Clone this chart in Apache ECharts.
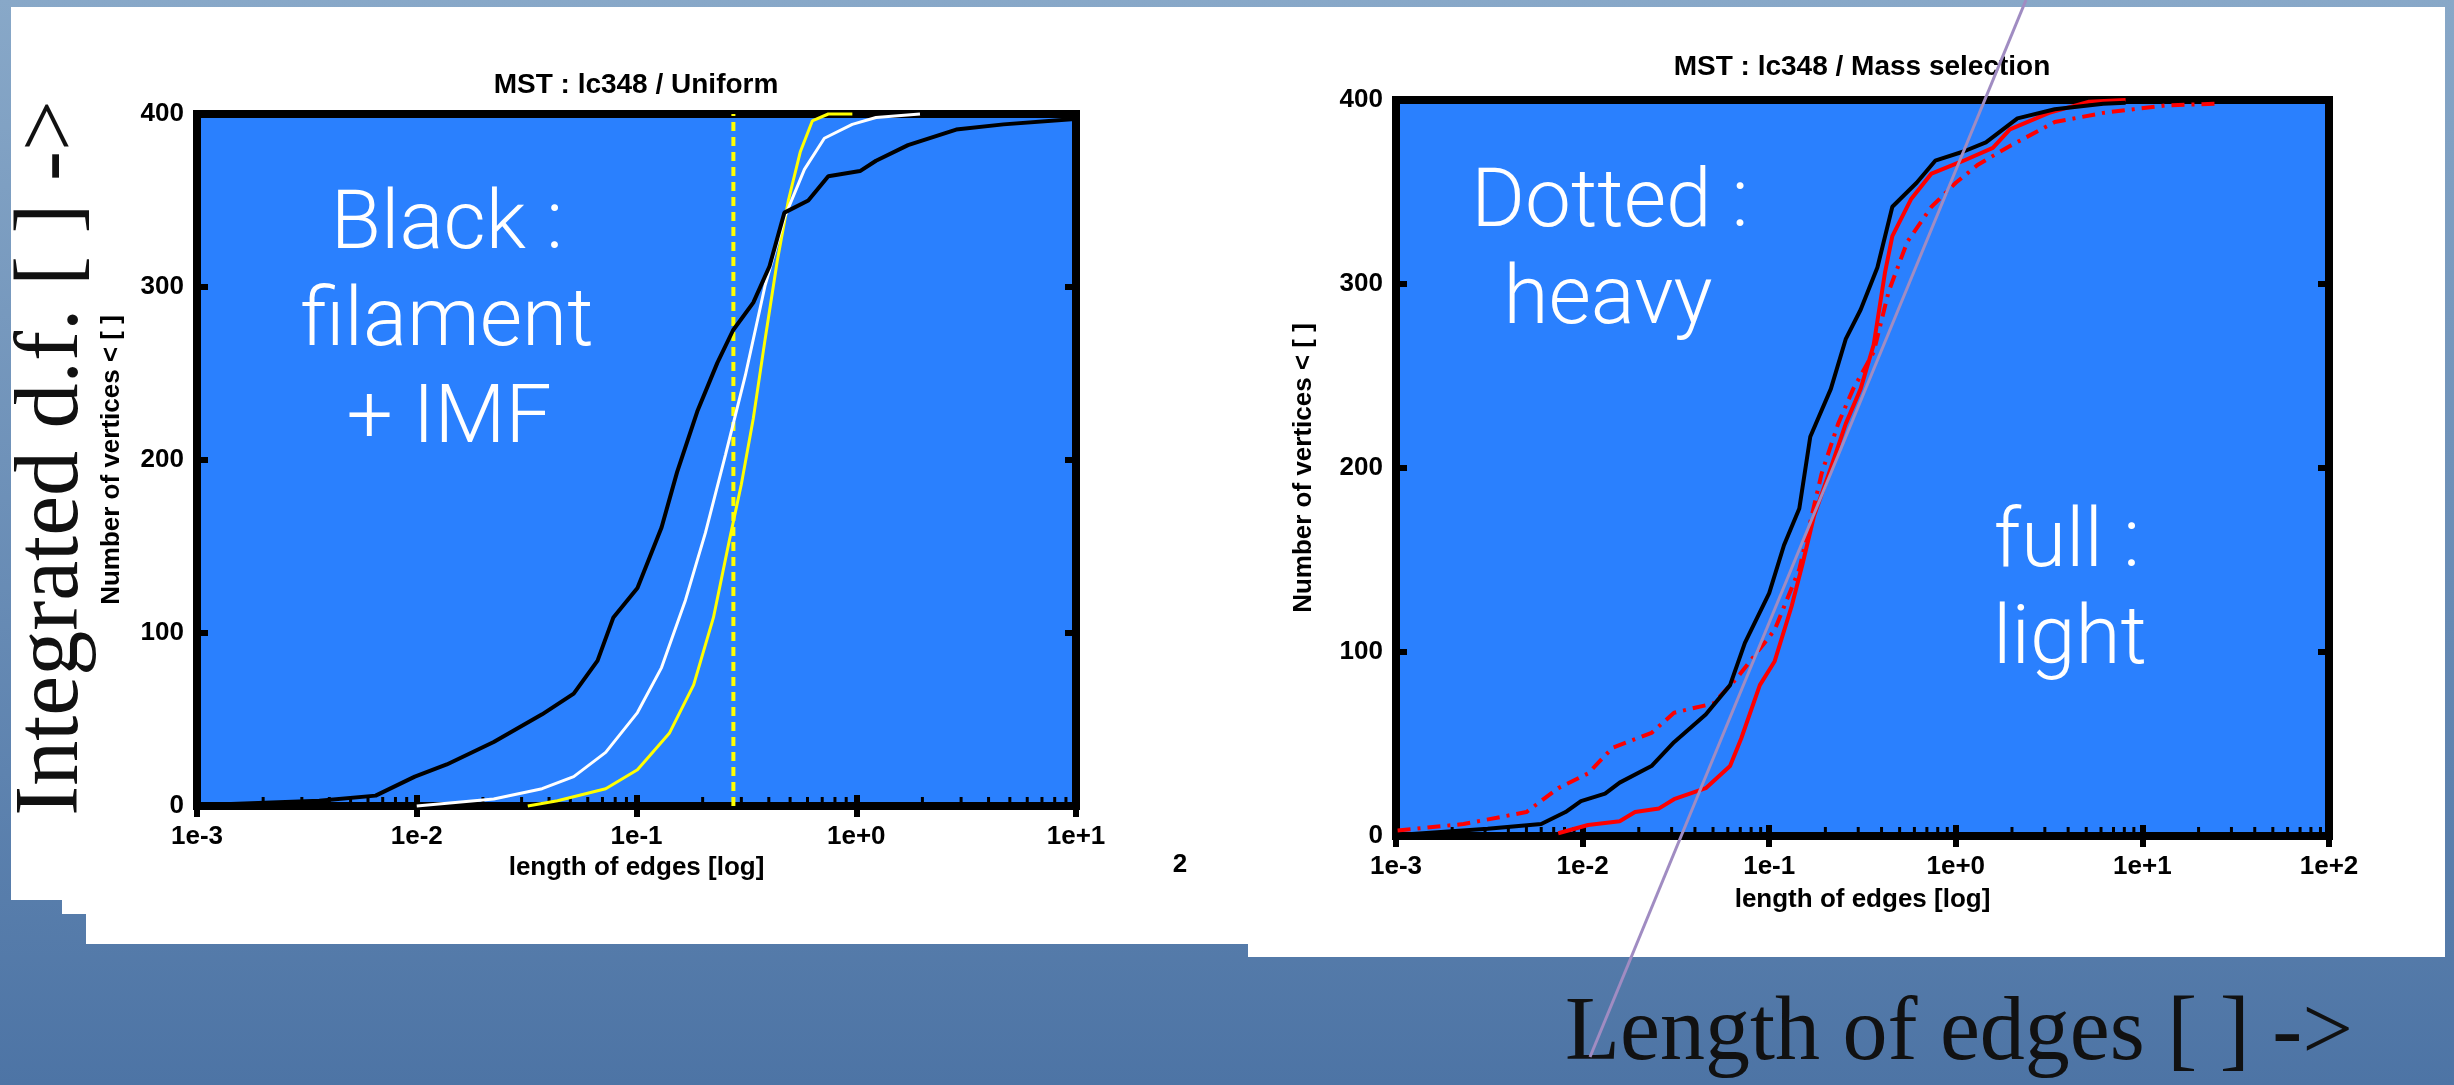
<!DOCTYPE html>
<html>
<head>
<meta charset="utf-8">
<script src="https://cdn.jsdelivr.net/npm/echarts@6/dist/echarts.min.js"></script>
<style>
  html, body { margin: 0; padding: 0; width: 2454px; height: 1085px; overflow: hidden; }
  #chart { width: 2454px; height: 1085px; }
</style>
</head>
<body>
<div id="chart"></div>
<script>
// ---- Data: cumulative number of MST vertices vs. edge length ----
// Uniform panel, [edge length, vertices below it]
const uniformBlack = [
  [0.001, 0.5], [0.0036, 3], [0.0065, 6], [0.0098, 17], [0.0137, 24], [0.0224, 37],
  [0.0372, 53], [0.0518, 65], [0.0665, 84], [0.0785, 109], [0.101, 126], [0.130, 161],
  [0.153, 193], [0.189, 228], [0.233, 256], [0.275, 275], [0.340, 291], [0.403, 312],
  [0.471, 343], [0.605, 350], [0.746, 364], [1.04, 367], [1.23, 373], [1.72, 382],
  [2.85, 391], [4.68, 394], [9.55, 397], [10, 397]
];
const uniformWhite = [
  [0.010, 0], [0.0224, 4], [0.0372, 10], [0.0518, 17], [0.0724, 31], [0.101, 54],
  [0.130, 80], [0.167, 119], [0.206, 158], [0.254, 203], [0.313, 249], [0.385, 301],
  [0.471, 340], [0.581, 368], [0.716, 386], [0.959, 394], [1.23, 398], [1.95, 400]
];
const uniformYellow = [
  [0.032, 0], [0.0437, 3], [0.0724, 10], [0.101, 21], [0.141, 42], [0.182, 70],
  [0.224, 109], [0.265, 154], [0.300, 186], [0.340, 224], [0.385, 270], [0.437, 315],
  [0.491, 350], [0.556, 378], [0.631, 396], [0.746, 400], [0.96, 400]
];
const uniformCut = [[0.276, 0], [0.276, 400]];

// Mass selection panel
const massAll = [
  [0.00102, 0.5], [0.0031, 4], [0.006, 6.5], [0.0081, 13], [0.0098, 19], [0.0132, 23],
  [0.0158, 29], [0.0234, 38], [0.0309, 51], [0.0457, 66], [0.0617, 82], [0.0741, 105],
  [0.100, 132], [0.120, 158], [0.145, 178], [0.166, 217], [0.214, 243], [0.257, 270],
  [0.309, 286], [0.380, 309], [0.457, 342], [0.617, 355], [0.776, 367], [1.10, 372],
  [1.45, 377], [2.14, 390], [3.39, 395], [6.17, 398], [8.13, 398.5]
];
const massLight = [
  [0.0074, 1.5], [0.0107, 6], [0.0158, 8], [0.0191, 13], [0.0257, 15], [0.0309, 20],
  [0.0457, 26], [0.0617, 38], [0.0708, 53], [0.0891, 82], [0.107, 95], [0.132, 125],
  [0.151, 148], [0.174, 174], [0.214, 200], [0.257, 224], [0.309, 243], [0.363, 267],
  [0.417, 306], [0.457, 326], [0.575, 346], [0.741, 360], [1.10, 367], [1.58, 374],
  [1.95, 384], [3.16, 393], [5.13, 399], [8.13, 400]
];
const massHeavy = [
  [0.00102, 3], [0.0023, 6.5], [0.005, 13], [0.0074, 26], [0.0107, 34], [0.0145, 48],
  [0.0234, 56], [0.0309, 67], [0.0501, 72], [0.0661, 85], [0.107, 112], [0.145, 145],
  [0.191, 197], [0.234, 224], [0.282, 243], [0.363, 263], [0.437, 296], [0.550, 323],
  [0.741, 342], [1.0, 355], [1.32, 365], [1.95, 375], [3.39, 388], [6.17, 393],
  [13.2, 397], [25.7, 398]
];

const yTicks = [0, 100, 200, 300, 400];
const titles = ['MST : lc348 / Uniform', 'MST : lc348 / Mass selection'];
const xName = 'length of edges [log]';
const yName = 'Number of vertices < [ ]';

// ---- Styling helpers ----
const SANS = '"Liberation Sans", Arial, sans-serif';
const SERIF = '"Liberation Serif", "Times New Roman", serif';
const LIGHT = 'Roboto, "Open Sans", Lato, sans-serif';
const PLOT_BLUE = '#2a80fe';

function decadeLabel(v) {
  const e = Math.round(Math.log10(v));
  return '1e' + (e < 0 ? '-' : '+') + Math.abs(e);
}

// log-axis minor tick positions (2..9 within each decade)
function minorTicks(lo, hi) {
  const out = [];
  for (let e = lo; e < hi; e++) {
    for (let m = 2; m <= 9; m++) out.push([m * Math.pow(10, e), 0]);
  }
  return out;
}

function xAxisPair(gridIndex, maxVal, nameGap) {
  const tick = { inside: true, length: 11, lineStyle: { color: '#000', width: 6 } };
  return [
    {
      gridIndex, type: 'log', logBase: 10, min: 0.001, max: maxVal, position: 'bottom',
      axisLine: { show: false }, splitLine: { show: false }, axisTick: tick,
      axisLabel: { formatter: decadeLabel, color: '#000', fontWeight: 'bold', fontSize: 26, fontFamily: SANS, margin: 18 },
      name: xName, nameLocation: 'middle', nameGap,
      nameTextStyle: { color: '#000', fontWeight: 'bold', fontSize: 26, fontFamily: SANS }
    },
    {
      gridIndex, type: 'log', logBase: 10, min: 0.001, max: maxVal, position: 'top',
      axisLine: { show: false }, splitLine: { show: false }, axisTick: tick,
      axisLabel: { show: false }
    }
  ];
}

function yAxisPair(gridIndex, nameGap) {
  const tick = { inside: true, length: 11, lineStyle: { color: '#000', width: 6 } };
  return [
    {
      gridIndex, type: 'value', min: yTicks[0], max: yTicks[yTicks.length - 1], interval: 100,
      position: 'left', axisLine: { show: false }, splitLine: { show: false }, axisTick: tick,
      axisLabel: { color: '#000', fontWeight: 'bold', fontSize: 26, fontFamily: SANS, margin: 13 },
      name: yName, nameLocation: 'middle', nameGap, nameRotate: 90,
      nameTextStyle: { color: '#000', fontWeight: 'bold', fontSize: 26, fontFamily: SANS }
    },
    {
      gridIndex, type: 'value', min: yTicks[0], max: yTicks[yTicks.length - 1], interval: 100,
      position: 'right', axisLine: { show: false }, splitLine: { show: false }, axisTick: tick,
      axisLabel: { show: false }
    }
  ];
}

function curve(data, xi, yi, color, width, type) {
  return {
    type: 'line', data, xAxisIndex: xi, yAxisIndex: yi, symbol: 'none', clip: false,
    silent: true, animation: false, z: 3,
    lineStyle: { color, width, type: type || 'solid', cap: 'butt' }
  };
}

function minorTickSeries(data, xi, yi) {
  return {
    type: 'custom', data, xAxisIndex: xi, yAxisIndex: yi, silent: true, animation: false, z: 2,
    renderItem: function (params, api) {
      const p = api.coord([api.value(0), api.value(1)]);
      return {
        type: 'line',
        shape: { x1: p[0], y1: p[1], x2: p[0], y2: p[1] - 9 },
        style: { stroke: '#000', lineWidth: 3 }
      };
    }
  };
}

function label(text, x, y, font, fill, align, extra) {
  return Object.assign({
    type: 'text', x, y, silent: true,
    style: { text, font, fill, align: align || 'center', verticalAlign: 'middle' }
  }, extra || {});
}

const chart = echarts.init(document.getElementById('chart'), null, { renderer: 'canvas' });

chart.setOption({
  animation: false,
  backgroundColor: {
    type: 'linear', x: 0, y: 0, x2: 0, y2: 1,
    colorStops: [{ offset: 0, color: '#88a8c8' }, { offset: 1, color: '#4d74a5' }]
  },
  grid: [
    { left: 197, top: 114, width: 879, height: 692, show: true, backgroundColor: PLOT_BLUE, borderColor: '#000', borderWidth: 8, containLabel: false },
    { left: 1396, top: 100, width: 933, height: 736, show: true, backgroundColor: PLOT_BLUE, borderColor: '#000', borderWidth: 8, containLabel: false }
  ],
  xAxis: [...xAxisPair(0, 10, 48), ...xAxisPair(1, 100, 51)],
  yAxis: [...yAxisPair(0, 72), ...yAxisPair(1, 79)],
  series: [
    minorTickSeries(minorTicks(-3, 1), 0, 0),
    minorTickSeries(minorTicks(-3, 2), 2, 2),
    curve(uniformCut, 0, 0, '#ffff00', 4, [9, 6]),
    curve(uniformYellow, 0, 0, '#ffff00', 3),
    curve(uniformWhite, 0, 0, '#ffffff', 3),
    curve(uniformBlack, 0, 0, '#000000', 4),
    curve(massHeavy, 2, 2, '#ff0000', 4, [13, 7, 3, 7]),
    curve(massLight, 2, 2, '#ff0000', 4),
    curve(massAll, 2, 2, '#000000', 4)
  ],
  graphic: [
    // white sheet behind the two plots
    {
      type: 'polygon', z: -10, silent: true,
      shape: { points: [[11, 7], [2445, 7], [2445, 957], [1248, 957], [1248, 944], [86, 944], [86, 914], [62, 914], [62, 900], [11, 900]] },
      style: { fill: '#ffffff' }
    },
    label(titles[0], 636, 85, 'bold 28px ' + SANS, '#000'),
    label(titles[1], 1862, 67, 'bold 28px ' + SANS, '#000'),
    label('2', 1180, 865, 'bold 26px ' + SANS, '#000'),
    // notes inside the plots
    label('Black :', 447, 227, '300 82px ' + LIGHT, '#ffffff', 'center', { z: 50 }),
    label('filament', 447, 324, '300 82px ' + LIGHT, '#ffffff', 'center', { z: 50 }),
    label('+ IMF', 449, 421, '300 82px ' + LIGHT, '#ffffff', 'center', { z: 50 }),
    label('Dotted :', 1610, 205, '300 82px ' + LIGHT, '#ffffff', 'center', { z: 50 }),
    label('heavy', 1608, 302, '300 82px ' + LIGHT, '#ffffff', 'center', { z: 50 }),
    label('full :', 2067, 545, '300 82px ' + LIGHT, '#ffffff', 'center', { z: 50 }),
    label('light', 2070, 642, '300 82px ' + LIGHT, '#ffffff', 'center', { z: 50 }),
    // slide axis captions
    label('Integrated d.f. [ ] ->', 53, 458, '90px ' + SERIF, '#111', 'center', { rotation: Math.PI / 2, z: 50 }),
    label('Length of edges [ ] ->', 1565, 1035, '90px ' + SERIF, '#111', 'left', { z: 50 }),
    // hand-drawn guide stroke
    {
      type: 'line', z: 100, silent: true,
      shape: { x1: 2026, y1: 0, x2: 1590, y2: 1057 },
      style: { stroke: '#a08cc2', lineWidth: 3 }
    }
  ]
});
</script>
</body>
</html>
